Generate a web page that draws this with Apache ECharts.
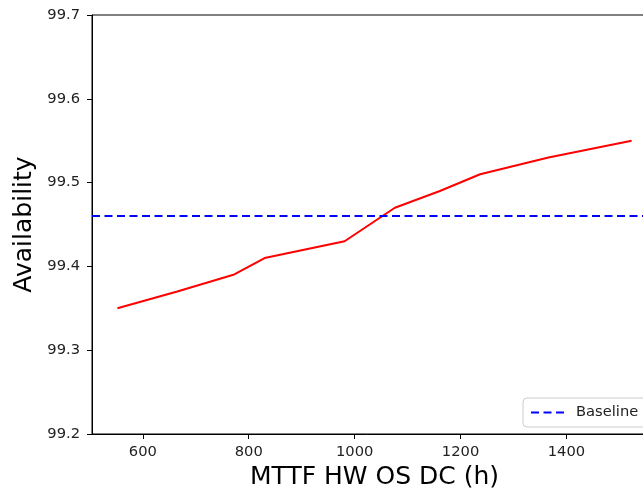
<!DOCTYPE html>
<html>
<head>
<meta charset="utf-8">
<script src="https://cdn.jsdelivr.net/npm/echarts@6/dist/echarts.min.js"></script>
<style>
html,body{margin:0;padding:0;background:#fff;}
#chart{width:643px;height:491px;}
</style>
</head>
<body>
<div id="chart"></div>
<script>
// Data
var mttfValues = [552, 665, 771, 830, 981, 1076, 1161, 1237, 1366, 1523];
var availabilityValues = [99.35, 99.37, 99.39, 99.41, 99.43, 99.47, 99.49, 99.51, 99.53, 99.55];
var baselineValue = 99.46;
var xTicks = [600, 800, 1000, 1200, 1400];
var yTicks = [99.2, 99.3, 99.4, 99.5, 99.6, 99.7];
var xRange = [504, 1571];
var yRange = [99.2, 99.7];
var seriesNames = ['Availability', 'Baseline'];
var axisNames = ['MTTF HW OS DC (h)', 'Availability'];

var FONT = 'DejaVu Sans';
var chart = echarts.init(document.getElementById('chart'), null, {renderer: 'canvas'});

var lineData = mttfValues.map(function (x, i) { return [x, availabilityValues[i]]; });

var option = {
  animation: false,
  backgroundColor: '#fff',
  grid: {
    left: 92, top: 15, width: 565, height: 419,
    outerBoundsMode: 'none',
    containLabel: false,
    show: true, borderColor: '#000', borderWidth: 1, backgroundColor: 'transparent'
  },
  xAxis: {
    type: 'value',
    min: xRange[0], max: xRange[1],
    name: axisNames[0],
    nameLocation: 'middle',
    nameGap: 31,
    nameMoveOverlap: false,
    nameTextStyle: {fontFamily: FONT, fontSize: 25, color: '#000'},
    axisLine: {show: true, lineStyle: {color: '#000', width: 1}},
    axisTick: {show: true, inside: false, length: 5, lineStyle: {color: '#000', width: 1}, customValues: xTicks},
    axisLabel: {show: true, margin: 11, fontFamily: FONT, fontSize: 14.7, color: '#222', customValues: xTicks,
      formatter: function (v) { return String(v); }},
    splitLine: {show: false}
  },
  yAxis: {
    type: 'value',
    min: yRange[0], max: yRange[1],
    name: axisNames[1],
    nameLocation: 'middle',
    nameGap: 55,
    nameMoveOverlap: false,
    nameTextStyle: {fontFamily: FONT, fontSize: 25, color: '#000'},
    axisLine: {show: true, lineStyle: {color: '#000', width: 1}},
    axisTick: {show: true, inside: false, length: 5, lineStyle: {color: '#000', width: 1}, customValues: yTicks},
    axisLabel: {show: true, margin: 12, fontFamily: FONT, fontSize: 14.7, color: '#222', customValues: yTicks,
      formatter: function (v) { return v.toFixed(1); }},
    splitLine: {show: false}
  },
  legend: {
    data: [seriesNames[1]],
    left: 523, top: 398,
    orient: 'vertical',
    itemWidth: 33, itemHeight: 14,
    padding: [7, 10, 7, 7],
    borderColor: '#cccccc', borderWidth: 1, borderRadius: 4,
    backgroundColor: 'rgba(255,255,255,0.8)',
    itemStyle: {color: 'rgba(0,0,0,0)', borderWidth: 0, opacity: 0},
    textStyle: {fontFamily: FONT, fontSize: 14.7, color: '#222', padding: [0, 0, 0, 7]}
  },
  series: [
    {
      name: seriesNames[0],
      type: 'line',
      data: lineData,
      symbol: 'none',
      lineStyle: {color: '#ff0000', width: 2},
      itemStyle: {color: '#ff0000'},
      z: 3
    },
    {
      name: seriesNames[1],
      type: 'line',
      data: [],
      symbol: 'none',
      lineStyle: {color: '#0000ff', width: 2, type: [8, 4.5]},
      itemStyle: {color: '#0000ff'},
      markLine: {
        silent: true,
        symbol: ['none', 'none'],
        label: {show: false},
        lineStyle: {color: '#0000ff', width: 2, type: [8, 4.5]},
        data: [{yAxis: baselineValue}]
      },
      z: 2
    }
  ]
};
chart.setOption(option);
</script>
</body>
</html>
